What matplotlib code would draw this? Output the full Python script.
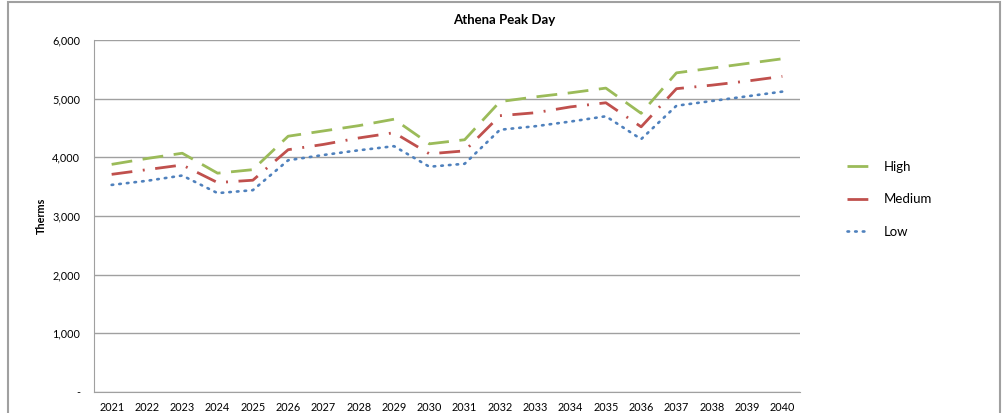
import matplotlib.pyplot as plt
from matplotlib.patches import Rectangle
from matplotlib.ticker import FuncFormatter

years = [str(y) for y in range(2021, 2041)]

high = [3880, 3980, 4070, 3730, 3790, 4360, 4450, 4540, 4650, 4230,
        4300, 4950, 5030, 5100, 5180, 4750, 5440, 5520, 5600, 5680]
medium = [3710, 3790, 3870, 3570, 3610, 4130, 4220, 4330, 4420, 4060,
          4110, 4710, 4760, 4860, 4930, 4520, 5170, 5230, 5300, 5380]
low = [3530, 3600, 3690, 3390, 3440, 3950, 4040, 4120, 4190, 3840,
       3890, 4470, 4530, 4610, 4700, 4310, 4880, 4960, 5040, 5120]

plt.rcParams['font.family'] = ['Lato', 'DejaVu Sans']

fig = plt.figure(figsize=(10.03, 4.13), dpi=100)
ax = fig.add_axes([94 / 1003, 21 / 413, 706 / 1003, 352 / 413])

x = range(len(years))
ax.plot(x, high, color='#9BBB59', lw=2.0, dashes=(7.5, 3.8), label='High')
ax.plot(x, medium, color='#C0504D', lw=2.0, dashes=(7.5, 3.8, 0.7, 3.8), label='Medium')
ax.plot(x, low, color='#4F81BD', lw=1.9, dashes=(0.6, 2.3), dash_capstyle='round',
        label='Low')

ax.set_xlim(-0.5, len(years) - 0.5)
ax.set_ylim(0, 6000)
ax.set_xticks(list(x))
ax.set_xticklabels(years)
ax.set_yticks(range(0, 6001, 1000))
ax.yaxis.set_major_formatter(FuncFormatter(lambda v, p: '-' if v == 0 else f'{int(v):,}'))
ax.tick_params(axis='both', length=0, labelsize=7.8, colors='#000000')
ax.tick_params(axis='y', pad=10)
ax.tick_params(axis='x', pad=7)

ax.grid(axis='y', color='#A0A0A0', lw=1)
ax.set_axisbelow(True)
for side in ['top', 'right']:
    ax.spines[side].set_visible(False)
for side in ['left', 'bottom']:
    ax.spines[side].set_color('#A0A0A0')

ax.set_ylabel('Therms', fontsize=7.8, fontweight='bold', labelpad=4)
fig.text(504 / 1003, 1 - 20 / 413, 'Athena Peak Day', ha='center', va='center',
         fontsize=9.5, fontweight='bold')

leg = fig.legend(loc='upper left', bbox_to_anchor=(835 / 1003, 1 - 149 / 413),
                 frameon=False, fontsize=9.5, handlelength=1.6, labelspacing=1.55,
                 handletextpad=1.2)

# outer chart border
fig.patches.append(Rectangle((8 / 1003, -0.05), 992 / 1003, 1.05 - 2 / 413,
                             transform=fig.transFigure, fill=False,
                             edgecolor='#A0A0A0', lw=1.5))

fig.savefig('out.png', dpi=100)
